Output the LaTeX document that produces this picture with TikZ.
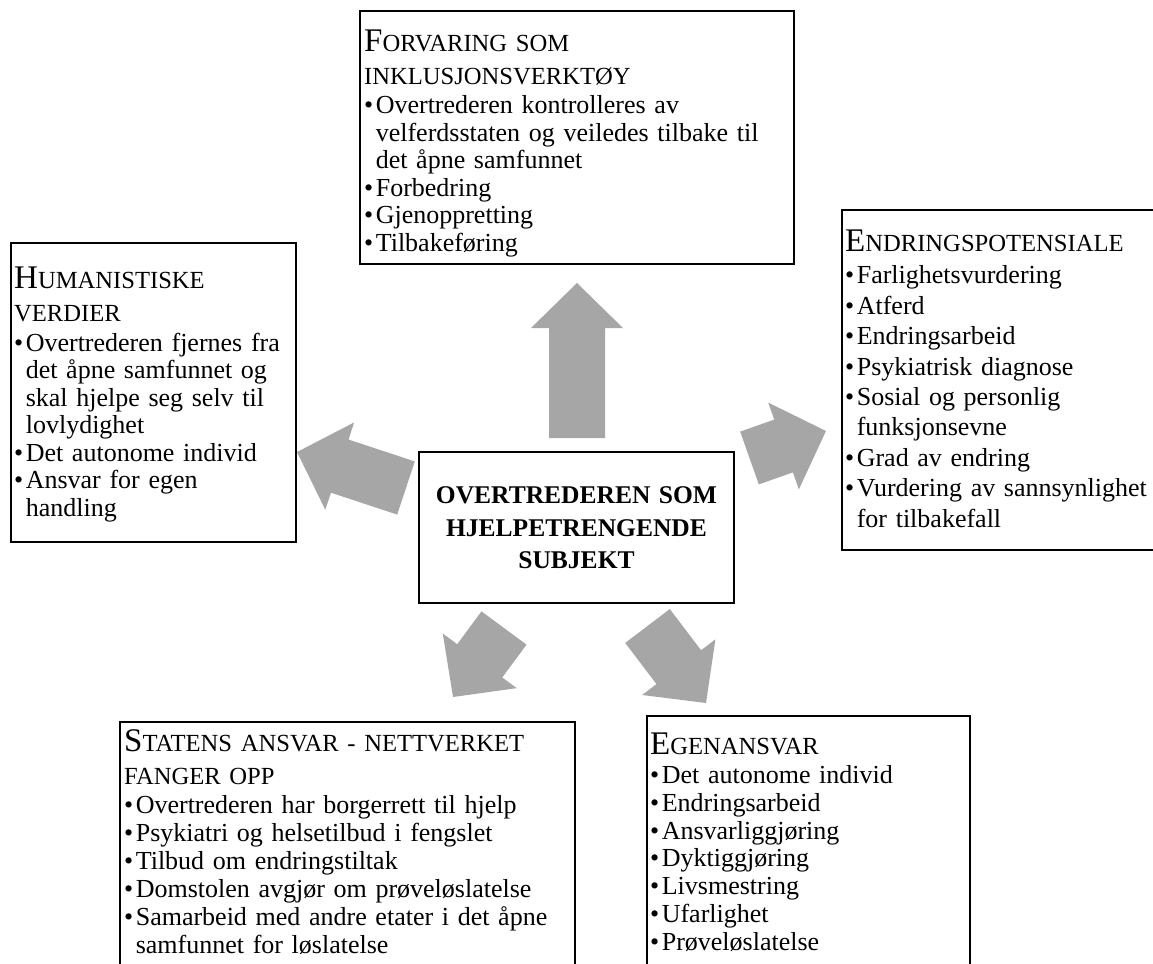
\documentclass[tikz,border=0pt]{standalone}
\usepackage{fontspec}
\setmainfont{Liberation Serif}
\usetikzlibrary{calc,positioning}
\definecolor{pilgraa}{RGB}{166,166,166}
\newcommand{\pkt}{\makebox[5.8pt][l]{\textbullet}}
\newcommand{\inn}{\hspace*{5.8pt}}
\newcommand{\kap}[2]{{\fontsize{16.5}{16.5}\selectfont #1}{\fontsize{12.3}{12.3}\selectfont #2}}
% blokkpil fra (#1) til spissen (#2)
\newcommand{\blokkpil}[2]{%
  \coordinate (hode) at ($(#2)!22.5pt!(#1)$);
  \fill[pilgraa] ($(#1)!14pt!90:(#2)$) -- ($(hode)!14pt!-90:(#1)$)
    -- ($(hode)!23pt!-90:(#1)$) -- (#2) -- ($(hode)!23pt!90:(#1)$)
    -- ($(hode)!14pt!90:(#1)$) -- ($(#1)!14pt!-90:(#2)$) -- cycle;}
\begin{document}
\begin{tikzpicture}[x=0.5pt, y=-0.5pt,
  boks/.style={draw, line width=1.2pt, inner sep=0pt},
  tekst/.style={anchor=base west, inner sep=0pt, text width=240pt, align=left,
    font=\fontsize{13}{#1}\selectfont}]
\clip (0,0) rectangle (1153,964);

% midten
\node[boks, minimum width=157.5pt, minimum height=75.5pt] (midten) at (576.5,527.5) {};
\node[anchor=base, inner sep=0pt, text width=157pt, align=center,
  font=\bfseries\fontsize{12.75}{16.25}\selectfont] (midttekst)
  at ($(midten.north)+(0,53)$) {OVERTREDEREN SOM\\HJELPETRENGENDE\\SUBJEKT};

% boksene rundt
\node[boks, minimum width=217pt, minimum height=126.5pt] (forvaring) at (577,137.5) {};
\node[tekst=13.75pt] (forvaringtekst) at ($(forvaring.north west)+(5,42)$) {%
  \kap{F}{ORVARING SOM}\\[2.75pt]
  \kap{}{INKLUSJONSVERKTØY}\\[0.75pt]
  \pkt Overtrederen kontrolleres av\\
  \inn velferdsstaten og veiledes tilbake til\\
  \inn det åpne samfunnet\\
  \pkt Forbedring\\
  \pkt Gjenoppretting\\
  \pkt Tilbakeføring};

\node[boks, minimum width=142.5pt, minimum height=149.5pt] (humanistisk) at (153.5,392.5) {};
\node[tekst=13.75pt] (humanistisktekst) at ($(humanistisk.north west)+(4,47)$) {%
  \kap{H}{UMANISTISKE}\\[2.75pt]
  \kap{}{VERDIER}\\[1pt]
  \pkt Overtrederen fjernes fra\\
  \inn det åpne samfunnet og\\
  \inn skal hjelpe seg selv til\\
  \inn lovlydighet\\
  \pkt Det autonome individ\\
  \pkt Ansvar for egen\\
  \inn handling};

\node[boks, minimum width=160pt, minimum height=170pt] (endring) at (1002,380) {};
\node[tekst=15.2pt] (endringtekst) at ($(endring.north west)+(4,43)$) {%
  \kap{E}{NDRINGSPOTENSIALE}\\[0.8pt]
  \pkt Farlighetsvurdering\\
  \pkt Atferd\\
  \pkt Endringsarbeid\\
  \pkt Psykiatrisk diagnose\\
  \pkt Sosial og personlig\\
  \inn funksjonsevne\\
  \pkt Grad av endring\\
  \pkt Vurdering av sannsynlighet\\
  \inn for tilbakefall};

\node[boks, minimum width=227.5pt, minimum height=129pt] (staten) at (347.5,851) {};
\node[tekst=14pt] (statentekst) at ($(staten.north west)+(5,31)$) {%
  \kap{S}{TATENS ANSVAR - NETTVERKET}\\[2.5pt]
  \kap{}{FANGER OPP}\\[0.5pt]
  \pkt Overtrederen har borgerrett til hjelp\\
  \pkt Psykiatri og helsetilbud i fengslet\\
  \pkt Tilbud om endringstiltak\\
  \pkt Domstolen avgjør om prøveløslatelse\\
  \pkt Samarbeid med andre etater i det åpne\\
  \inn samfunnet for løslatelse};

\node[boks, minimum width=161.5pt, minimum height=132pt] (egen) at (808.5,848) {};
\node[tekst=13.85pt] (egentekst) at ($(egen.north west)+(4,40)$) {%
  \kap{E}{GENANSVAR}\\[0.65pt]
  \pkt Det autonome individ\\
  \pkt Endringsarbeid\\
  \pkt Ansvarliggjøring\\
  \pkt Dyktiggjøring\\
  \pkt Livsmestring\\
  \pkt Ufarlighet\\
  \pkt Prøveløslatelse};

% pilene
\coordinate (opp-a) at (577,438);   \coordinate (opp-b) at (577,283);
\coordinate (venstre-a) at (406,488); \coordinate (venstre-b) at (297,452);
\coordinate (hoyre-a) at (749.5,458); \coordinate (hoyre-b) at (826,431);
\coordinate (nedv-a) at (504,628);  \coordinate (nedv-b) at (453,697);
\coordinate (nedh-a) at (647.5,626); \coordinate (nedh-b) at (706,703);
\blokkpil{opp-a}{opp-b}
\blokkpil{venstre-a}{venstre-b}
\blokkpil{hoyre-a}{hoyre-b}
\blokkpil{nedv-a}{nedv-b}
\blokkpil{nedh-a}{nedh-b}

\end{tikzpicture}
\end{document}
